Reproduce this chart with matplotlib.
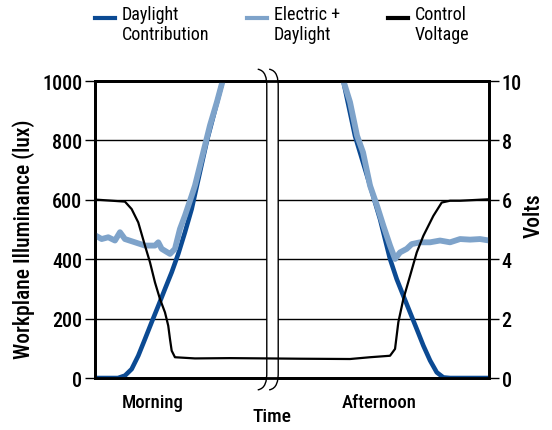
import matplotlib
matplotlib.use("Agg")
import matplotlib.pyplot as plt
from matplotlib.path import Path
from matplotlib.patches import PathPatch, Rectangle
from matplotlib.lines import Line2D
import matplotlib.transforms as mtransforms

plt.rcParams["font.family"] = ["Roboto Condensed", "Liberation Sans Narrow",
                               "Open Sans Condensed", "DejaVu Sans"]
plt.rcParams["font.stretch"] = "condensed"
plt.rcParams["font.weight"] = "medium"
plt.rcParams["axes.labelweight"] = "medium"

# time axis in arbitrary units (0 = start of morning, 100 = end of afternoon)
t_day_am = [0, 5.84, 7.61, 9.31, 10.99, 12.69, 14.39, 16.07, 17.77, 19.47,
            21.14, 22.84, 24.54, 28.43, 32.49]
day_am = [0, 0, 8, 30, 75, 131, 188, 243, 300, 356, 418, 491, 569, 800, 1005]

t_mix_am = [0, 1.70, 3.38, 5.08, 6.35, 7.61, 10.15, 12.69, 15.23, 16.07, 16.93,
            19.04, 20.30, 21.57, 22.84, 24.54, 25.38, 29.19, 30.96, 32.49]
mix_am = [481, 468, 474, 463, 491, 468, 457, 446, 446, 457, 435,
          418, 435, 502, 547, 614, 648, 851, 930, 1005]

t_day_pm = [62.94, 65.99, 69.80, 72.34, 74.87, 76.57, 78.25, 79.95, 81.65,
            83.33, 85.03, 86.73, 88.40, 90.10, 100]
day_pm = [1005, 815, 648, 535, 401, 333, 277, 221, 165, 109, 59, 19, 2, 0, 0]

t_mix_pm = [62.94, 64.72, 66.50, 68.02, 69.80, 71.57, 73.17, 74.87, 76.14, 77.41,
            79.11, 80.38, 82.49, 85.03, 87.56, 90.10, 92.64, 95.18, 97.72, 100]
mix_pm = [1005, 929, 816, 760, 648, 580, 513, 446, 401, 423,
          435, 451, 457, 457, 463, 457, 468, 466, 468, 463]

t_volt = [0, 7.61, 9.31, 10.99, 12.69, 13.96, 15.23, 16.50, 17.77, 18.60, 19.04,
          19.47, 20.30, 25.38, 34.26, 43.65, 52.03, 64.72, 69.80, 74.87, 76.14,
          76.98, 78.25, 79.95, 81.65, 83.33, 85.86, 87.99, 90.10, 92.64, 100]
volt = [6.01, 5.94, 5.69, 5.24, 4.46, 3.9, 3.22, 2.66, 2.21, 1.76, 1.31,
        0.92, 0.7, 0.66, 0.67, 0.66, 0.65, 0.64, 0.7, 0.75, 0.98,
        1.88, 2.66, 3.44, 4.23, 4.79, 5.46, 5.91, 5.97, 5.97, 6.02]

lux_ticks = [0, 200, 400, 600, 800, 1000]
volt_ticks = [0, 2, 4, 6, 8, 10]
period_pos = [14.7, 72.1]
period_labels = ["Morning", "Afternoon"]
break_range = (43.6, 46.5)

dark_blue = "#0B4A93"
light_blue = "#7EA3CA"

fig = plt.figure(figsize=(5.52, 4.31), dpi=100)
ax = fig.add_axes([0.172, 0.1206, 0.714, 0.689])
ax2 = ax.twinx()

ax.set_xlim(0, 100)
ax.set_ylim(0, 1000)
ax2.set_ylim(0, 10)
ax.set_yticks(lux_ticks)
ax2.set_yticks(volt_ticks)
ax.yaxis.grid(True, color="black", linewidth=1.0)
ax.set_axisbelow(True)

line_kw = dict(solid_capstyle="round", solid_joinstyle="round")
ax.plot(t_day_am, day_am, color=dark_blue, lw=3.3, zorder=4, **line_kw)
ax.plot(t_day_pm, day_pm, color=dark_blue, lw=3.3, zorder=4, **line_kw)
ax.plot(t_mix_am, mix_am, color=light_blue, lw=4.2, zorder=5, **line_kw)
ax.plot(t_mix_pm, mix_pm, color=light_blue, lw=4.2, zorder=5, **line_kw)
ax2.plot(t_volt, volt, color="black", lw=1.6, zorder=6, **line_kw)

for a in (ax, ax2):
    for s in a.spines.values():
        s.set_linewidth(2.0)
ax.tick_params(axis="y", labelsize=14.5, length=7, width=1, pad=2)
ax2.tick_params(axis="y", labelsize=14.5, length=7, width=1, pad=2)
ax.set_xticks(period_pos)
ax.set_xticklabels(period_labels)
ax.tick_params(axis="x", length=0, labelsize=13.5, pad=11)
ax.set_xlabel("Time", fontsize=14)
ax.xaxis.set_label_coords(0.449, -0.098)
ax.set_ylabel("Workplane Illuminance (lux)", fontsize=15.5)
ax.yaxis.set_label_coords(-0.152, 0.47)
ax2.set_ylabel("Volts", fontsize=15.5)
ax2.yaxis.set_label_coords(1.086, 0.55)

# axis break: white band with two ")" marks
trans = mtransforms.blended_transform_factory(ax.transData, ax.transAxes)
x0, x1 = break_range
band = Rectangle((x0, -0.02), x1 - x0, 1.04, transform=trans, facecolor="white",
                 edgecolor="none", zorder=3, clip_on=False)
ax.add_patch(band)
ax2.set_zorder(ax.get_zorder() + 1)
ax2.patch.set_visible(False)
for xb in (x0, x1):
    xs = xb - 2.3
    verts = [(xs, 1.04), (xb - 0.3, 1.035), (xb, 1.01), (xb, 0.98),
             (xb, 0.02),
             (xb, -0.01), (xb - 0.3, -0.035), (xs, -0.04)]
    codes = [Path.MOVETO, Path.CURVE4, Path.CURVE4, Path.CURVE4,
             Path.LINETO,
             Path.CURVE4, Path.CURVE4, Path.CURVE4]
    ax.add_patch(PathPatch(Path(verts, codes), transform=trans, fill=False,
                           edgecolor="black", lw=1.0, zorder=3.5, clip_on=False))

# legend, handle beside the first line of each label
legend_items = [("Daylight\nContribution", dark_blue, 95),
                ("Electric +\nDaylight", light_blue, 247),
                ("Control\nVoltage", "black", 388)]
W, H = 552, 431
for label, color, px in legend_items:
    fig.add_artist(Line2D([px / W, (px + 20) / W], [1 - 19 / H, 1 - 19 / H],
                          color=color, lw=3.0, transform=fig.transFigure))
    fig.text((px + 27) / W, 1 - 6 / H, label, fontsize=13, fontweight="normal",
             va="top", ha="left", linespacing=1.12)

fig.savefig("out.png", dpi=100)
